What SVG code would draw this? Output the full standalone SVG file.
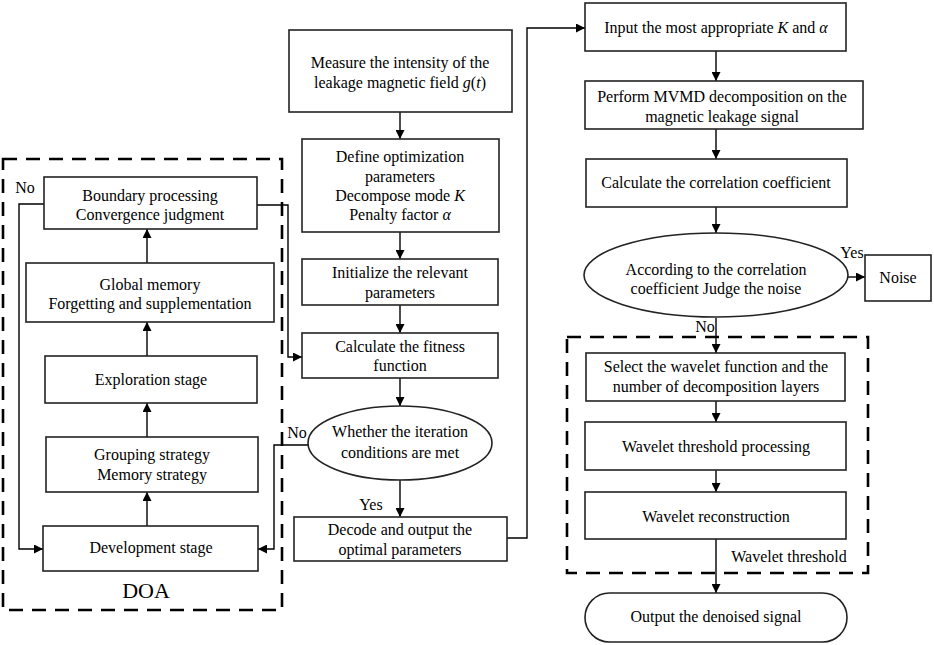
<svg xmlns="http://www.w3.org/2000/svg" width="934" height="645" viewBox="0 0 934 645">
<defs>
<marker id="ah" viewBox="0 0 10 10" refX="10" refY="5" markerWidth="9" markerHeight="9" markerUnits="userSpaceOnUse" orient="auto">
<path d="M0,0 L10,5 L0,10 z" fill="#000"/>
</marker>
</defs>
<style>
.box{fill:#fff;stroke:#222;stroke-width:1.6}
.dash{fill:none;stroke:#000;stroke-width:2.6;stroke-dasharray:14,9}
.ln{fill:none;stroke:#000;stroke-width:1.4}
.ar{fill:none;stroke:#000;stroke-width:1.4;marker-end:url(#ah)}
text{font-family:"Liberation Serif","Times New Roman",serif;font-size:16px;fill:#000;text-anchor:middle}
.lab{font-size:16px}
.big{font-size:22px}
</style>
<rect width="934" height="645" fill="#fff"/>
<g id="groups">
<rect class="dash" x="3" y="159" width="279" height="451"/>
<rect class="dash" x="567" y="337" width="301" height="236"/>
</g>
<g id="connectors">
<line class="ar" x1="147" y1="526" x2="147" y2="492"/>
<line class="ar" x1="147" y1="437" x2="147" y2="403"/>
<line class="ar" x1="147" y1="356" x2="147" y2="322"/>
<line class="ar" x1="147" y1="263" x2="147" y2="229"/>
<polyline class="ar" points="44,204 19,204 19,549 43,549"/>
<polyline class="ar" points="257,205 288,205 288,357 302,357"/>
<polyline class="ar" points="308,445 274,445 274,549 258,549"/>
<line class="ar" x1="400" y1="112" x2="400" y2="139"/>
<line class="ar" x1="400" y1="232" x2="400" y2="259"/>
<line class="ar" x1="400" y1="305" x2="400" y2="333"/>
<line class="ar" x1="400" y1="378" x2="400" y2="406"/>
<line class="ar" x1="400" y1="480" x2="400" y2="517"/>
<polyline class="ar" points="507,538 527,538 527,28 585,28"/>
<line class="ar" x1="716" y1="51" x2="716" y2="81"/>
<line class="ar" x1="716" y1="129" x2="716" y2="159"/>
<line class="ar" x1="716" y1="207" x2="716" y2="233"/>
<line class="ar" x1="848" y1="277" x2="865" y2="277"/>
<line class="ar" x1="716" y1="318" x2="716" y2="353"/>
<line class="ar" x1="716" y1="401" x2="716" y2="422"/>
<line class="ar" x1="716" y1="470" x2="716" y2="492"/>
<line class="ar" x1="716" y1="539" x2="716" y2="593"/>
<text class="lab" x="25" y="193">No</text>
<text class="lab" x="297" y="438">No</text>
<text class="lab" x="371" y="510">Yes</text>
<text class="lab" x="852" y="258">Yes</text>
<text class="lab" x="705" y="332">No</text>
<text class="lab" x="789" y="562">Wavelet threshold</text>
<text class="big" x="146" y="598">DOA</text>
</g>
<g id="n_boundary">
<rect class="box" x="44" y="177" width="213" height="52"/>
<text x="150" y="201">Boundary processing</text>
<text x="150" y="220">Convergence judgment</text>
</g>
<g id="n_global">
<rect class="box" x="26" y="263" width="248" height="59"/>
<text x="150" y="290">Global memory</text>
<text x="150" y="309">Forgetting and supplementation</text>
</g>
<g id="n_explore">
<rect class="box" x="45" y="356" width="212" height="47"/>
<text x="151" y="385">Exploration stage</text>
</g>
<g id="n_grouping">
<rect class="box" x="46" y="437" width="212" height="55"/>
<text x="152" y="460">Grouping strategy</text>
<text x="152" y="480">Memory strategy</text>
</g>
<g id="n_develop">
<rect class="box" x="43" y="526" width="215" height="45"/>
<text x="151" y="553">Development stage</text>
</g>
<g id="n_measure">
<rect class="box" x="289" y="30" width="223" height="82"/>
<text x="400" y="68">Measure the intensity of the</text>
<text x="400" y="88">leakage magnetic field <tspan font-style="italic">g</tspan>(<tspan font-style="italic">t</tspan>)</text>
</g>
<g id="n_define">
<rect class="box" x="302" y="139" width="197" height="93"/>
<text x="400" y="162">Define optimization</text>
<text x="400" y="182">parameters</text>
<text x="400" y="201">Decompose mode <tspan font-style="italic">K</tspan></text>
<text x="400" y="220">Penalty factor <tspan font-style="italic">α</tspan></text>
</g>
<g id="n_init">
<rect class="box" x="302" y="259" width="196" height="46"/>
<text x="400" y="278">Initialize the relevant</text>
<text x="400" y="298">parameters</text>
</g>
<g id="n_fitness">
<rect class="box" x="302" y="333" width="196" height="45"/>
<text x="400" y="352">Calculate the fitness</text>
<text x="400" y="371">function</text>
</g>
<g id="n_iter">
<ellipse class="box" cx="400" cy="443" rx="92" ry="37"/>
<text x="400" y="437">Whether the iteration</text>
<text x="400" y="458">conditions are met</text>
</g>
<g id="n_decode">
<rect class="box" x="294" y="517" width="213" height="44"/>
<text x="400" y="535">Decode and output the</text>
<text x="400" y="555">optimal parameters</text>
</g>
<g id="n_input">
<rect class="box" x="585" y="3" width="261" height="48"/>
<text x="716" y="33">Input the most appropriate <tspan font-style="italic">K</tspan> and <tspan font-style="italic">α</tspan></text>
</g>
<g id="n_mvmd">
<rect class="box" x="585" y="81" width="278" height="48"/>
<text x="722" y="102">Perform MVMD decomposition on the</text>
<text x="722" y="122">magnetic leakage signal</text>
</g>
<g id="n_corr">
<rect class="box" x="586" y="159" width="261" height="48"/>
<text x="716" y="188">Calculate the correlation coefficient</text>
</g>
<g id="n_judge">
<ellipse class="box" cx="716" cy="275" rx="132" ry="42"/>
<text x="716" y="275">According to the correlation</text>
<text x="716" y="294">coefficient Judge the noise</text>
</g>
<g id="n_noise">
<rect class="box" x="865" y="255" width="66" height="46"/>
<text x="898" y="283">Noise</text>
</g>
<g id="n_select">
<rect class="box" x="586" y="353" width="259" height="48"/>
<text x="716" y="372">Select the wavelet function and the</text>
<text x="716" y="392">number of decomposition layers</text>
</g>
<g id="n_wtp">
<rect class="box" x="585" y="422" width="261" height="48"/>
<text x="716" y="452">Wavelet threshold processing</text>
</g>
<g id="n_wr">
<rect class="box" x="585" y="492" width="261" height="47"/>
<text x="716" y="522">Wavelet reconstruction</text>
</g>
<g id="n_output">
<rect class="box" x="585" y="593" width="262" height="49" rx="24.5" ry="24.5"/>
<text x="716" y="622">Output the denoised signal</text>
</g>
</svg>
